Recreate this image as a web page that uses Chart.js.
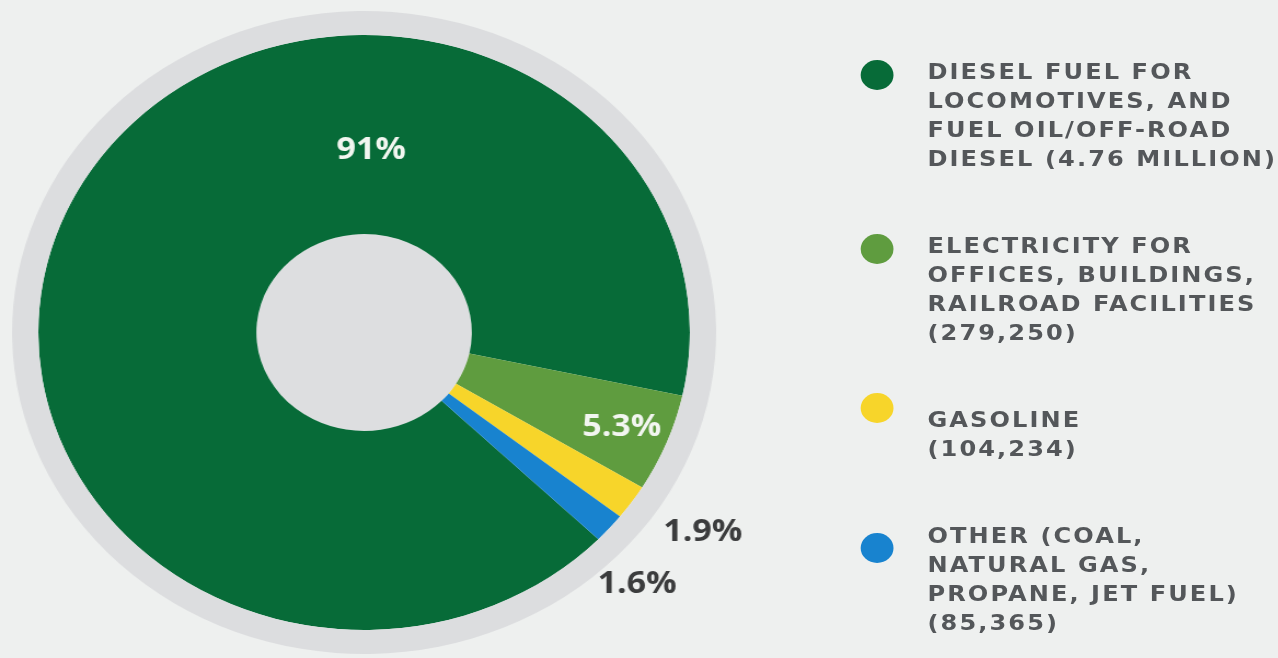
<!DOCTYPE html>
<html>
<head>
<meta charset="utf-8">
<title>Railroad fuel and energy use</title>
<script src="https://cdn.jsdelivr.net/npm/chart.js@4.4.1/dist/chart.umd.min.js"></script>
<style>
  html, body { margin: 0; padding: 0; }
  body { width: 1278px; height: 658px; overflow: hidden; background: #eef0ef; }
  /* the whole graphic is drawn a little wider than tall */
  #stage { position: relative; width: 1168px; height: 658px; transform: scaleX(1.095); transform-origin: 0 0; }
  #chart-box { position: absolute; left: 0; top: 0; width: 720px; height: 658px; }
  #legend { position: absolute; left: 786px; top: 57px; }
  .item { position: relative; padding-left: 61px; margin-bottom: 58px; }
  .dot { position: absolute; left: 0; width: 30px; height: 30px; border-radius: 50%; }
  .item div.line {
    font: bold 22px "DejaVu Sans", sans-serif;
    letter-spacing: 1.9px;
    line-height: 29px;
    color: #54575a;
    white-space: nowrap;
  }
</style>
</head>
<body>
<div id="stage">
  <div id="chart-box"><canvas id="fuel-chart" width="720" height="658"></canvas></div>
  <div id="legend"></div>
</div>

<script>
// Share of fuel use by category (percent)
const categories = ["Diesel fuel", "Electricity", "Gasoline", "Other"];
const shares = [91, 5.3, 1.9, 1.6];
const colors = ["#076b38", "#5f9c3f", "#f7d52a", "#1883cf"];

// Legend text, one entry per line
const legendLines = [
  ["DIESEL FUEL FOR", "LOCOMOTIVES, AND", "FUEL OIL/OFF-ROAD", "DIESEL (4.76 MILLION)"],
  ["ELECTRICITY FOR", "OFFICES, BUILDINGS,", "RAILROAD FACILITIES", "(279,250)"],
  ["GASOLINE", "(104,234)"],
  ["OTHER (COAL,", "NATURAL GAS,", "PROPANE, JET FUEL)", "(85,365)"]
];

// where each percent label sits: fixed angle or slice middle + shift (deg),
// distance as a fraction of the ring's outer radius
const labelPlaces = [
  { angle: -88, r: 0.614 },
  { shift: 0, r: 0.852 },
  { shift: -2, r: 1.237 },
  { shift: 4.2, r: 1.192 }
];

// Fill the hole in the middle of the ring
const holeFill = {
  id: "holeFill",
  beforeDatasetsDraw(chart) {
    const arc = chart.getDatasetMeta(1).data[0];
    if (!arc) return;
    const ctx = chart.ctx;
    ctx.save();
    ctx.fillStyle = "#dddee0";
    ctx.beginPath();
    ctx.arc(arc.x, arc.y, arc.innerRadius, 0, Math.PI * 2);
    ctx.fill();
    ctx.restore();
  }
};

// Percent labels on / next to each slice
const sliceText = {
  id: "sliceText",
  afterDatasetsDraw(chart) {
    const meta = chart.getDatasetMeta(1);
    const ctx = chart.ctx;
    ctx.save();
    ctx.textAlign = "center";
    ctx.textBaseline = "middle";
    ctx.font = "bold 31px 'Open Sans', sans-serif";
    meta.data.forEach((arc, i) => {
      const p = labelPlaces[i];
      const mid = (arc.startAngle + arc.endAngle) / 2;
      const a = typeof p.angle === "number" ? p.angle * Math.PI / 180 : mid + p.shift * Math.PI / 180;
      const r = arc.outerRadius * p.r;
      ctx.fillStyle = p.r < 1 ? "#f2f6f0" : "#3b3c3d";
      ctx.fillText(shares[i] + "%", arc.x + Math.cos(a) * r, arc.y + Math.sin(a) * r);
    });
    ctx.restore();
  }
};

new Chart(document.getElementById("fuel-chart"), {
  type: "doughnut",
  data: {
    labels: categories,
    datasets: [
      { data: [1], backgroundColor: "#dcdddf", borderWidth: 0, weight: 24 },
      { data: shares, backgroundColor: colors, borderWidth: 0, weight: 199 }
    ]
  },
  options: {
    responsive: false,
    animation: false,
    rotation: 134,
    cutout: "30.6%",
    layout: { padding: { left: 11, top: 11, right: 66, bottom: 4 } },
    plugins: {
      legend: { display: false },
      tooltip: { enabled: false }
    }
  },
  plugins: [holeFill, sliceText]
});

// HTML legend
const legend = document.getElementById("legend");
legendLines.forEach((lines, i) => {
  const item = document.createElement("div");
  item.className = "item";
  const dot = document.createElement("span");
  dot.className = "dot";
  dot.style.background = colors[i];
  dot.style.top = (i === 3 ? 12 : i === 2 ? -12 : 3) + "px";
  item.appendChild(dot);
  lines.forEach(t => {
    const l = document.createElement("div");
    l.className = "line";
    l.textContent = t;
    item.appendChild(l);
  });
  legend.appendChild(item);
});
</script>
</body>
</html>
